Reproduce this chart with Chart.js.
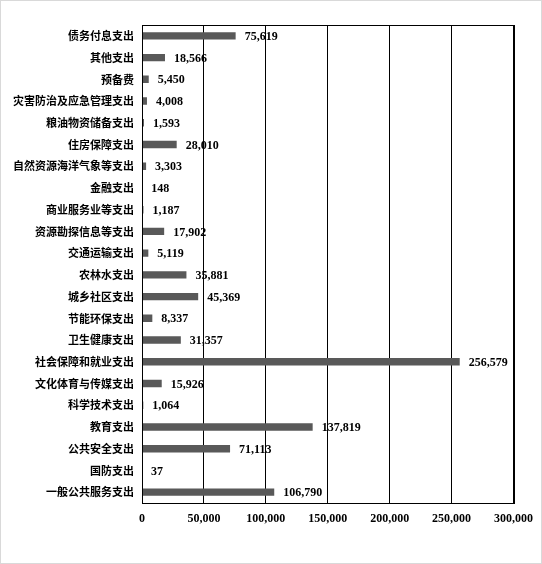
<!DOCTYPE html>
<html><head><meta charset="utf-8">
<script src="https://cdn.jsdelivr.net/npm/chart.js@4/dist/chart.umd.min.js"></script>
<style>
html,body{margin:0;padding:0;background:#fff;}
#wrap{position:absolute;left:0;top:0;width:540px;height:562px;border:1px solid #d9d9d9;}
canvas{position:absolute;left:0;top:0;}
</style></head><body>
<div id="wrap"></div>
<canvas id="c" width="542" height="564" style="width:542px;height:564px"></canvas>
<script>
const categories = ['债务付息支出','其他支出','预备费','灾害防治及应急管理支出','粮油物资储备支出','住房保障支出','自然资源海洋气象等支出','金融支出','商业服务业等支出','资源勘探信息等支出','交通运输支出','农林水支出','城乡社区支出','节能环保支出','卫生健康支出','社会保障和就业支出','文化体育与传媒支出','科学技术支出','教育支出','公共安全支出','国防支出','一般公共服务支出'];
const values = [75619,18566,5450,4008,1593,28010,3303,148,1187,17902,5119,35881,45369,8337,31357,256579,15926,1064,137819,71113,37,106790];
const xTicks = [0,50000,100000,150000,200000,250000,300000];

const fmt = v => v.toLocaleString('en-US');

const labelPlugin = {
  id:'labels',
  afterDatasetsDraw(chart){
    const ctx = chart.ctx;
    const meta = chart.getDatasetMeta(0);
    ctx.save();
    ctx.font = 'bold 12px "Liberation Serif"';
    ctx.fillStyle = '#000';
    ctx.textAlign = 'left';
    ctx.textBaseline = 'middle';
    meta.data.forEach((bar,i)=>{
      ctx.fillText(fmt(values[i]), bar.x + 9, bar.y + 1);
    });
    ctx.restore();
  }
};
const borderPlugin = {
  id:'box',
  afterDraw(chart){
    const a = chart.chartArea, ctx = chart.ctx;
    ctx.save();
    ctx.strokeStyle = '#000';
    ctx.lineWidth = 1;
    ctx.strokeRect(Math.round(a.left)+0.5, Math.round(a.top)+0.5, Math.round(a.right-a.left), Math.round(a.bottom-a.top));
    ctx.restore();
  }
};

new Chart(document.getElementById('c'), {
  type:'bar',
  data:{labels:categories, datasets:[{data:values, backgroundColor:'#595959', barPercentage:0.34, categoryPercentage:1}]},
  options:{
    indexAxis:'y',
    responsive:false,
    animation:false,
    layout:{padding:{left:0,right:26,top:25,bottom:0}},
    plugins:{legend:{display:false}, tooltip:{enabled:false}},
    scales:{
      x:{
        min:0,max:300000,
        afterBuildTicks(ax){ ax.ticks = xTicks.map(v=>({value:v})); },
        afterFit(ax){ ax.height = 61; },
        grid:{color:'#000', drawTicks:false, lineWidth:1},
        border:{color:'#000'},
        ticks:{color:'#000', padding:9, font:{family:'"Liberation Serif"', weight:'bold', size:12}, callback:v=>fmt(v), maxRotation:0}
      },
      y:{
        afterFit(ax){ ax.width = 142; },
        grid:{display:false, drawTicks:false},
        border:{color:'#000'},
        ticks:{color:'#000', padding:8, font:{family:'"Noto Sans CJK SC"', weight:'bold', size:11}, autoSkip:false}
      }
    }
  },
  plugins:[labelPlugin, borderPlugin]
});
</script>
</body></html>
